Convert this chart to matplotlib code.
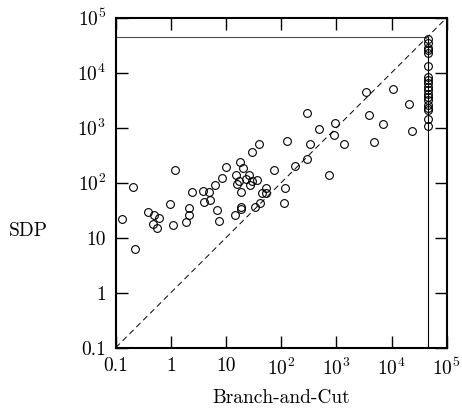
import numpy as np
import matplotlib.pyplot as plt
from matplotlib.ticker import NullLocator

plt.rcParams["font.family"] = "serif"
plt.rcParams["font.serif"] = ["cmr10"]
plt.rcParams["mathtext.fontset"] = "cm"
plt.rcParams["axes.unicode_minus"] = False

# time limit (seconds)
timeout = 45000

# running times of instances solved by branch-and-cut
bc_time = [0.132, 0.203, 0.224, 0.39, 0.50, 0.48, 0.55, 0.61, 0.95, 1.08,
           1.19, 1.88, 2.1, 2.16, 2.42, 3.87, 4.04, 4.97, 5.19, 6.3,
           6.77, 7.45, 8.35, 9.98, 14.4, 15.2, 15.6, 17.0, 18.1, 18.4,
           18.4, 18.7, 20.0, 22.7, 26.4, 26.9, 29.2, 29.2, 33.1, 36.9,
           41.3, 45.4, 53.0, 53.0, 73.1, 111, 116, 180, 297, 745,
           40.1, 126, 297, 337, 478, 917, 956, 1392, 3443, 3953,
           4808, 7000, 10600, 21000, 23500]
sdp_time = [21.6, 84.5, 6.2, 29.3, 25.9, 17.7, 14.8, 22.5, 40.5, 17.0,
            168, 19.5, 26.2, 35.1, 68.6, 71.6, 45.1, 66.9, 48.5, 92,
            31.5, 20.4, 122, 193, 25.9, 136, 93.5, 109, 238, 68.6,
            35.7, 32.8, 183, 117, 140, 92, 109, 366, 36.6, 113,
            42.2, 65.8, 79, 64.2, 172, 42.2, 79, 201, 270, 136,
            512, 580, 1875, 512, 935, 728, 1233, 499, 4515, 1680,
            550, 1167, 4990, 2731, 860]

# SDP times of instances where branch-and-cut hit the time limit
sdp_time_bc_out = [40500, 34250, 28500, 25880, 22540, 13240, 8460, 7370,
                   6420, 5430, 4845, 4100, 3660, 3190, 2590, 2310, 2100,
                   1420, 1073]

ticks = [0.1, 1, 10, 1e2, 1e3, 1e4, 1e5]
tick_labels = ["0.1", "1", "10", "$10^2$", "$10^3$", "$10^4$", "$10^5$"]

fig = plt.figure(figsize=(4.62, 4.15), dpi=100)
ax = fig.add_axes([0.2504, 0.1622, 0.7165, 0.7951])

# diagonal and time-limit lines
ax.plot([0.1, 1e5], [0.1, 1e5], color="black", lw=0.7, dashes=(6, 4))
ax.plot([0.1, timeout], [timeout, timeout], color="0.3", lw=0.8)
ax.plot([timeout, timeout], [0.1, timeout], color="black", lw=0.8)

ax.plot(bc_time, sdp_time, "o", ms=5.6, mfc="none", mec="black", mew=0.8)
ax.plot(np.full(len(sdp_time_bc_out), timeout), sdp_time_bc_out, "o",
        ms=5.6, mfc="none", mec="black", mew=0.8)

ax.set_xscale("log")
ax.set_yscale("log")
ax.set_xlim(0.1, 1e5)
ax.set_ylim(0.1, 1e5)
ax.set_xticks(ticks, tick_labels)
ax.set_yticks(ticks, tick_labels)
ax.xaxis.set_minor_locator(NullLocator())
ax.yaxis.set_minor_locator(NullLocator())
ax.tick_params(direction="in", length=8.5, width=1, top=True, right=True,
               labelsize=14, pad=7)
for s in ax.spines.values():
    s.set_linewidth(1.5)

ax.set_xlabel("Branch-and-Cut", fontsize=14, va="top")
ax.xaxis.set_label_coords(0.5, -0.125)
ax.set_ylabel("SDP", fontsize=14, rotation=0, ha="center", va="center")
ax.yaxis.set_label_coords(-0.265, 0.354)

plt.savefig("out.png")
